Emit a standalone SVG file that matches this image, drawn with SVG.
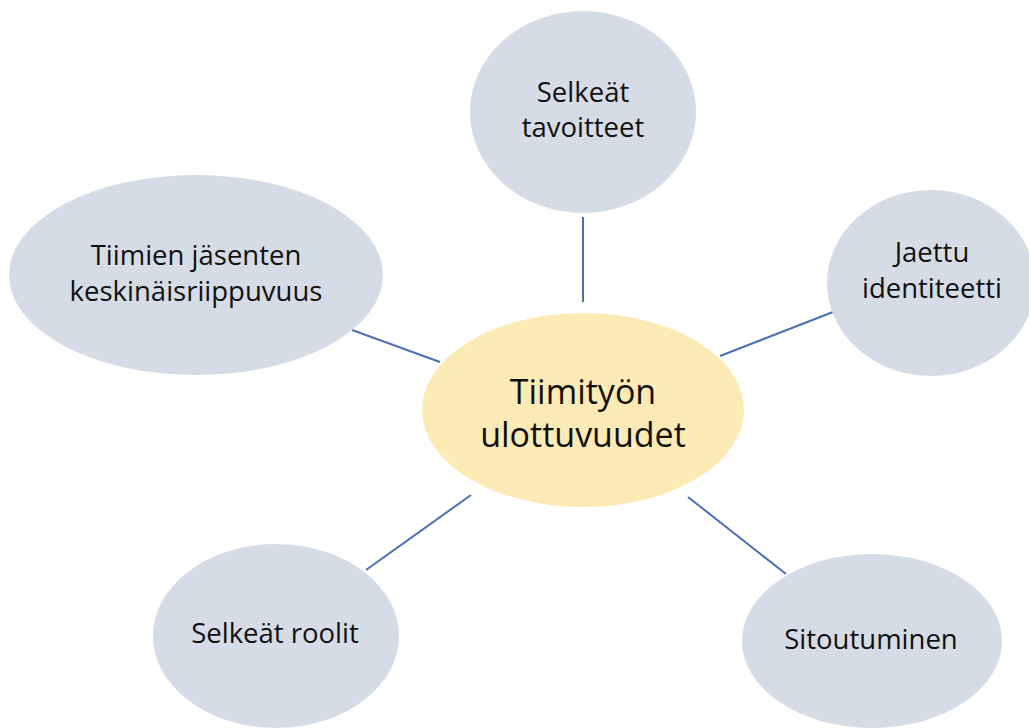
<svg xmlns="http://www.w3.org/2000/svg" width="1029" height="728" viewBox="0 0 1029 728">
<style>
.n{fill:#D6DCE5}
.c{fill:#FDEBB6}
.t{font-family:"Open Sans","Liberation Sans",sans-serif;font-size:27.5px;fill:#111;text-anchor:middle}
.tc{font-family:"Open Sans","Liberation Sans",sans-serif;font-size:34px;fill:#111;text-anchor:middle}
.l{stroke:#4A6FB5;stroke-width:2;fill:none}
</style>
<rect width="1029" height="728" fill="#fff"/>
<g id="connectors">
<line class="l" x1="583" y1="217" x2="583" y2="302"/>
<line class="l" x1="352" y1="330" x2="440" y2="362"/>
<line class="l" x1="720" y1="356" x2="833" y2="312"/>
<line class="l" x1="366" y1="570" x2="471" y2="495"/>
<line class="l" x1="688" y1="497" x2="786" y2="574"/>
</g>
<g id="center">
<ellipse class="c" cx="583" cy="410" rx="161" ry="97"/>
<text class="tc" x="583" y="404">Tiimityön</text>
<text class="tc" x="583" y="447">ulottuvuudet</text>
</g>
<g id="top">
<ellipse class="n" cx="583" cy="112" rx="113" ry="101"/>
<text class="t" x="583" y="102">Selkeät</text>
<text class="t" x="583" y="137">tavoitteet</text>
</g>
<g id="left">
<ellipse class="n" cx="196" cy="275" rx="187" ry="100"/>
<text class="t" x="196" y="265">Tiimien jäsenten</text>
<text class="t" x="196" y="301">keskinäisriippuvuus</text>
</g>
<g id="right">
<ellipse class="n" cx="931" cy="283" rx="104" ry="93"/>
<text class="t" x="932" y="262">Jaettu</text>
<text class="t" x="932" y="298">identiteetti</text>
</g>
<g id="bottomleft">
<ellipse class="n" cx="276" cy="636" rx="123" ry="92"/>
<text class="t" x="275" y="643">Selkeät roolit</text>
</g>
<g id="bottomright">
<ellipse class="n" cx="872" cy="641" rx="130" ry="87"/>
<text class="t" x="871" y="649">Sitoutuminen</text>
</g>
</svg>
